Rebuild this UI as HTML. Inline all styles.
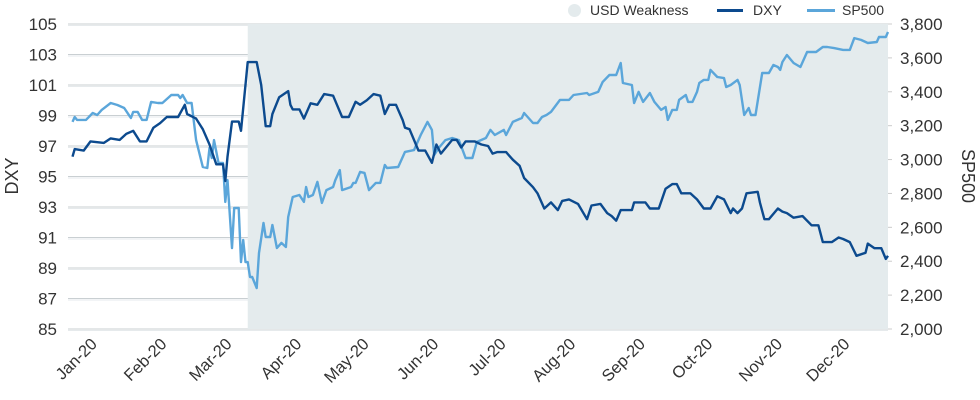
<!DOCTYPE html>
<html><head><meta charset="utf-8"><style>
body{margin:0;background:#fff;}
svg{display:block;font-family:"Liberation Sans",sans-serif;}
</style></head><body>
<svg id="chart" width="980" height="400"></svg>
<script>
const dxyDays=[2,3,7,10,16,19,23,26,29,32,35,38,41,44,49,52,53,57,60,63,66,69,70,71,73,76,77,80,84,86,88,90,91,94,98,99,100,103,105,108,111,114,118,122,125,128,130,133,136,139,141,143,146,149,150,152,156,159,162,164,166,171,173,175,177,181,184,187,189,191,195,198,201,203,207,209,212,215,218,220,223,227,231,233,237,240,242,244,246,251,252,257,259,262,263,266,269,271,273,277,280,283,286,289,292,295,296,298,300,302,307,308,310,312,316,318,320,323,327,331,334,336,340,343,345,348,351,355,356,359,362,364,365];
const dxyValues=[96.3,96.8,96.7,97.3,97.2,97.5,97.4,97.8,98.0,97.3,97.3,98.2,98.5,98.9,98.9,99.7,99.1,98.8,98.1,97.1,95.8,95.8,94.7,96.3,98.6,98.6,98.0,102.5,102.5,101.0,98.3,98.3,99.1,100.2,100.6,99.7,99.4,99.4,98.8,99.8,99.7,100.4,100.3,98.9,98.9,99.9,99.7,100.0,100.4,100.3,99.1,99.7,99.7,98.7,98.2,98.1,96.7,96.7,95.9,97.1,96.5,97.4,97.4,96.9,97.3,97.3,97.1,97.0,96.5,96.6,96.6,96.1,95.7,94.9,94.3,93.9,92.9,93.3,92.8,93.4,93.5,93.2,92.2,93.1,93.2,92.6,92.4,92.1,92.8,92.8,93.3,93.3,92.9,92.9,92.9,94.2,94.5,94.5,93.9,93.9,93.5,92.9,92.9,93.7,93.5,92.6,92.9,92.6,92.9,93.9,94.0,93.3,92.2,92.2,92.9,92.7,92.6,92.3,92.4,91.8,91.8,90.7,90.7,91.0,90.9,90.7,89.8,90.0,90.6,90.3,90.3,89.6,89.8];
const spDays=[2,3,4,8,11,13,15,19,22,25,28,29,31,33,35,37,40,42,45,46,49,50,51,53,55,57,60,62,63,64,65,67,69,70,71,73,74,76,77,78,79,80,81,82,84,85,87,88,90,91,93,95,97,98,100,103,105,106,107,109,111,113,115,118,119,121,122,126,127,128,130,132,134,137,139,141,142,147,150,154,157,160,162,163,165,168,171,174,177,180,182,186,188,190,194,195,198,202,203,207,209,211,213,215,219,223,225,231,232,236,238,241,244,246,247,251,252,254,256,259,261,264,266,267,269,271,272,275,276,278,280,281,283,285,286,289,292,293,295,298,299,301,303,304,306,309,312,314,316,317,318,320,323,326,329,333,336,338,341,345,348,350,353,356,360,361,364,365];
const spValues=[3222,3251,3234,3234,3275,3263,3293,3334,3322,3304,3245,3281,3281,3234,3234,3340,3334,3334,3369,3381,3381,3363,3381,3334,3334,3115,2956,2950,3068,3009,3115,2980,2980,2750,2879,2478,2714,2714,2395,2525,2395,2395,2307,2307,2242,2449,2626,2543,2543,2614,2478,2508,2484,2661,2779,2791,2750,2838,2779,2791,2868,2744,2820,2838,2879,2938,2820,2838,2862,2862,2927,2921,2820,2862,2862,2968,2950,2956,3045,3056,3145,3222,3175,3027,3068,3115,3127,3115,3009,3009,3104,3127,3175,3145,3175,3145,3222,3245,3275,3216,3216,3251,3263,3281,3352,3352,3381,3393,3381,3399,3458,3499,3499,3570,3452,3440,3334,3399,3340,3393,3340,3293,3310,3234,3293,3293,3352,3381,3340,3340,3399,3452,3470,3470,3529,3487,3481,3428,3440,3470,3440,3263,3304,3263,3263,3511,3511,3558,3546,3529,3576,3617,3570,3546,3635,3635,3664,3664,3658,3647,3647,3717,3706,3688,3694,3723,3723,3753];
const monthLabels=["Jan-20","Feb-20","Mar-20","Apr-20","May-20","Jun-20","Jul-20","Aug-20","Sep-20","Oct-20","Nov-20","Dec-20"];
const monthStarts=[0,31,60,91,121,152,182,213,244,274,305,335];
const dxyTicks=[85,87,89,91,93,95,97,99,101,103,105];
const spTicks=[2000,2200,2400,2600,2800,3000,3200,3400,3600,3800];
const shadeStart=80, shadeEnd=365;

const NS="http://www.w3.org/2000/svg";
const svg=document.getElementById('chart');
const X0=68,X1=888,Y0=329,Y1=24;
const xS=d=>X0+d*(X1-X0)/365;
const yL=v=>Y0-(v-85)*(Y0-Y1)/20;
const yR=v=>Y0-(v-2000)*(Y0-Y1)/1800;
function mk(tag,attrs,parent){const e=document.createElementNS(NS,tag);for(const k in attrs)e.setAttribute(k,attrs[k]);(parent||svg).appendChild(e);return e;}

dxyTicks.forEach(t=>{
  const g=mk('line',{x1:X0,x2:X1,y1:yL(t),y2:yL(t),stroke:'#c9cfd2','stroke-width':1});
  
  
  mk('line',{x1:X0,x2:X1,y1:yL(t)+1.5,y2:yL(t)+1.5,stroke:'#e6eaec','stroke-width':1});
});
const sh=mk('rect',{x:xS(shadeStart),y:Y1,width:xS(shadeEnd)-xS(shadeStart),height:Y0-Y1,fill:'#e4ebed'});



dxyTicks.forEach(t=>{
  const tx=mk('text',{x:57,y:yL(t)+6,'text-anchor':'end','font-size':17,fill:'#333'});
  tx.textContent=t;
  
  
});
spTicks.forEach(t=>{
  mk('line',{x1:X1,x2:X1+4,y1:yR(t),y2:yR(t),stroke:'#ccc'});
  const tx=mk('text',{x:900,y:yR(t)+6,'font-size':17,fill:'#333'});
  tx.textContent=t.toLocaleString('en-US');
  
  
});
monthLabels.forEach((m,i)=>{
  const x=xS(monthStarts[i])+30;
  const tx=mk('text',{x:x,y:345,'text-anchor':'end','font-size':16.5,fill:'#333',transform:`rotate(-45 ${x} 345)`});
  tx.textContent=m;
  
  
});
const t1=mk('text',{x:18,y:176,'text-anchor':'middle','font-size':18,fill:'#333',transform:'rotate(-90 18 176)'});
t1.textContent='DXY';


const t2=mk('text',{x:962,y:176,'text-anchor':'middle','font-size':18,fill:'#333',transform:'rotate(90 962 176)'});
t2.textContent='SP500';



const spPath=mk('path',{d:spDays.map((d,i)=>(i?'L':'M')+xS(d).toFixed(1)+','+yR(spValues[i]).toFixed(1)).join(''),fill:'none',stroke:'#5ba6da','stroke-width':2.4,'stroke-linejoin':'round'});


const dxPath=mk('path',{d:dxyDays.map((d,i)=>(i?'L':'M')+xS(d).toFixed(1)+','+yL(dxyValues[i]).toFixed(1)).join(''),fill:'none',stroke:'#0c4a8e','stroke-width':2.4,'stroke-linejoin':'round'});


</script>
<div style="position:absolute;left:0;top:0;width:980px;height:24px;font-family:'Liberation Sans',sans-serif;font-size:14px;color:#333;">
  <span style="position:absolute;left:568px;top:4px;width:13px;height:13px;border-radius:50%;background:#e4ebed;"></span>
  <span style="position:absolute;left:590px;top:2px;">USD Weakness</span>
  <span style="position:absolute;left:717px;top:9px;width:26px;height:3px;background:#0c4a8e;"></span>
  <span style="position:absolute;left:753px;top:2px;">DXY</span>
  <span style="position:absolute;left:807px;top:9px;width:28px;height:3px;background:#5ba6da;"></span>
  <span style="position:absolute;left:842px;top:2px;">SP500</span>
</div>
</body></html>
